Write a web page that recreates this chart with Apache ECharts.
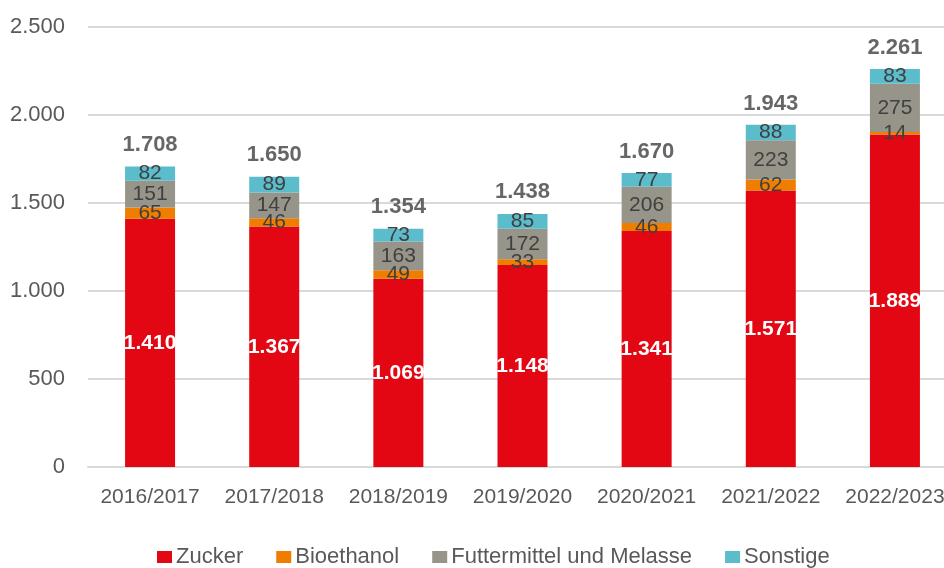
<!DOCTYPE html>
<html>
<head>
<meta charset="utf-8">
<script src="https://cdn.jsdelivr.net/npm/echarts@6/dist/echarts.min.js"></script>
<style>
  html, body { margin: 0; padding: 0; background: #fff; overflow: hidden; }
  /* wider than the window: the original is cut off at the right edge */
  #chart { width: 970px; height: 568px; }
</style>
</head>
<body>
<div id="chart"></div>
<script>
const years = ['2016/2017', '2017/2018', '2018/2019', '2019/2020', '2020/2021', '2021/2022', '2022/2023'];
const zucker = [1410, 1367, 1069, 1148, 1341, 1571, 1889];
const bioethanol = [65, 46, 49, 33, 46, 62, 14];
const futtermittel = [151, 147, 163, 172, 206, 223, 275];
const sonstige = [82, 89, 73, 85, 77, 88, 83];
const totals = [1708, 1650, 1354, 1438, 1670, 1943, 2261];

const FONT = '"Liberation Sans", Arial, sans-serif';
// German thousands separator
const fmt = (v) => String(v).replace(/\B(?=(\d{3})+(?!\d))/g, '.');

const darkLabel = {
  show: true,
  position: 'inside',
  color: '#404040',
  fontSize: 21,
  fontFamily: FONT,
  formatter: (p) => fmt(p.value),
};

const chart = echarts.init(document.getElementById('chart'));
chart.setOption({
  animation: false,
  grid: { left: 88, right: 13, top: 27, bottom: 101 },
  legend: {
    data: ['Zucker', 'Bioethanol', 'Futtermittel und Melasse', 'Sonstige'],
    left: 152,
    top: 541,
    itemWidth: 15,
    itemHeight: 12,
    itemGap: 33,
    icon: 'rect',
    textStyle: { color: '#595959', fontSize: 22, fontFamily: FONT, padding: [0, 0, 0, -1] },
  },
  xAxis: {
    type: 'category',
    data: years,
    axisTick: { show: false },
    axisLine: { lineStyle: { color: '#D9D9D9', width: 2 } },
    axisLabel: { color: '#595959', fontSize: 21, fontFamily: FONT, margin: 20, interval: 0 },
  },
  yAxis: {
    type: 'value',
    min: 0,
    max: 2500,
    interval: 500,
    axisLine: { show: false },
    axisTick: { show: false },
    splitLine: { lineStyle: { color: '#D9D9D9', width: 2 } },
    axisLabel: {
      color: '#595959',
      fontSize: 22,
      fontFamily: FONT,
      margin: 23,
      formatter: (v) => fmt(v),
    },
  },
  series: [
    {
      name: 'Zucker',
      type: 'bar',
      stack: 'total',
      barWidth: 50,
      data: zucker,
      itemStyle: { color: '#E30613' },
      label: {
        show: true,
        position: 'inside',
        color: '#fff',
        fontWeight: 'bold',
        fontSize: 21,
        fontFamily: FONT,
        formatter: (p) => fmt(p.value),
      },
    },
    {
      name: 'Bioethanol',
      type: 'bar',
      stack: 'total',
      data: bioethanol,
      itemStyle: { color: '#EE7D00' },
      label: darkLabel,
    },
    {
      name: 'Futtermittel und Melasse',
      type: 'bar',
      stack: 'total',
      data: futtermittel,
      itemStyle: { color: '#97948A' },
      label: darkLabel,
    },
    {
      name: 'Sonstige',
      type: 'bar',
      stack: 'total',
      data: sonstige,
      itemStyle: { color: '#5BBCCC' },
      label: darkLabel,
    },
    {
      // invisible points carrying the bold total above each bar
      name: 'Summe',
      type: 'scatter',
      data: totals,
      symbolSize: 1,
      itemStyle: { color: 'rgba(0,0,0,0)' },
      silent: true,
      z: 10,
      label: {
        show: true,
        position: 'top',
        distance: 10,
        color: '#404040',
        fontWeight: 'bold',
        fontSize: 22,
        fontFamily: FONT,
        formatter: (p) => fmt(p.value),
      },
    },
  ],
});
</script>
</body>
</html>
